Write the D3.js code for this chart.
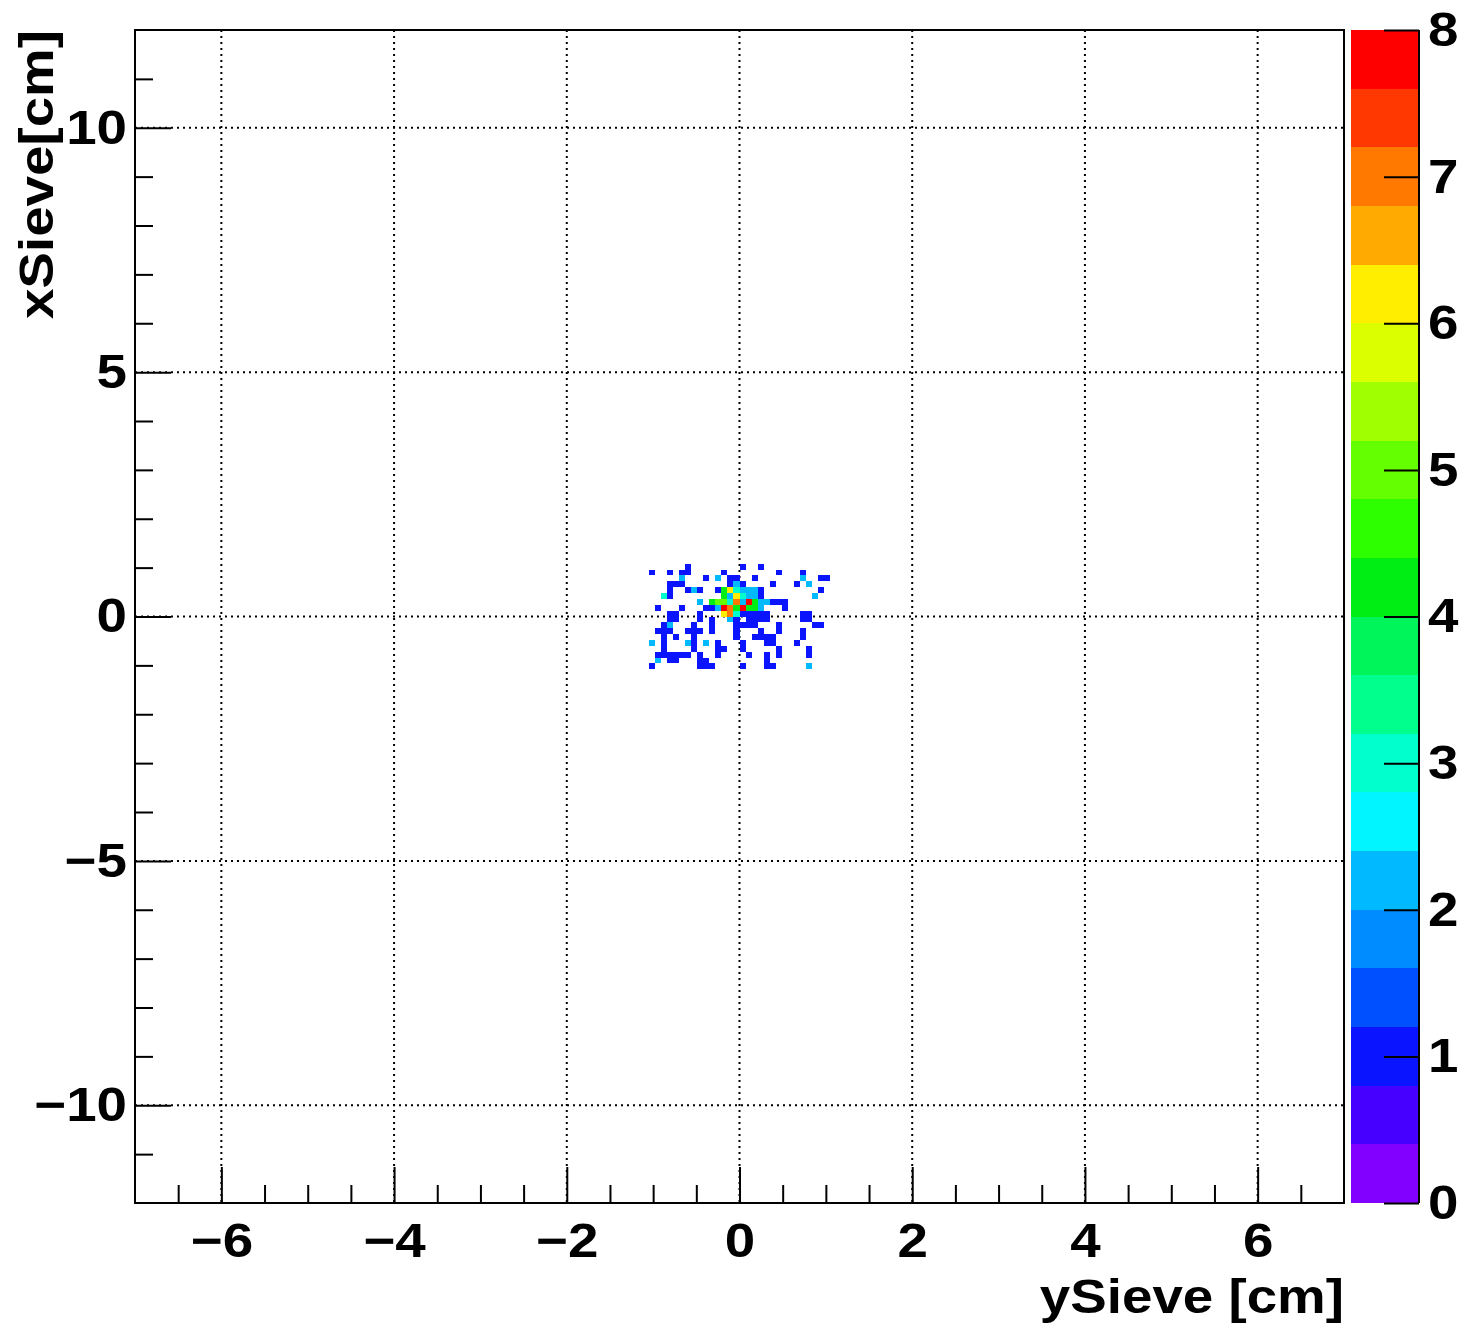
<!DOCTYPE html>
<html><head><meta charset="utf-8">
<script src="https://cdn.jsdelivr.net/npm/d3@7"></script>
<style>body{margin:0;background:#fff}svg{display:block}</style>
</head><body>
<svg id="chart" width="1464" height="1323"></svg>
<script>
// Histogram definition (ySieve horizontal, xSieve vertical)
const ySieveRange = [-7, 7];
const xSieveRange = [-12, 12];
const nBinsY = 200;
const nBinsX = 200;
// first bin index of the non-empty block, and top row bin index
const firstColBin = 85;
const topRowBin = 108;
// counts per row (top row first), '.' = empty
const countRows = [
  "......1........1..1...........",
  "1..1.11.....1........1...1....",
  ".....2...1.2.11..1.......2..11",
  "...111.......121....1...1.2...",
  "...1..121..14632221.........1.",
  "..31........4263221........2..",
  "........2.4553728422111.......",
  ".1...1...1128748442...1.......",
  "...11...1...67311111.....11...",
  "...11...1.1..21.1111.....11...",
  "..12...1..1...1111...1.....11.",
  ".111..111.1...1...1..1...1....",
  "..1.1..1......1..1111....1....",
  "2.1...21.2.1...1...11...1.....",
  "..1....1...11..1.....1....1...",
  ".111111.1..1....1..1.1....1...",
  ".2.11...11.........1..........",
  "1.......111....1...11.....2..."
];
const xTicks = [-6, -4, -2, 0, 2, 4, 6];
const yTicks = [-10, -5, 0, 5, 10];
const zTicks = [0, 1, 2, 3, 4, 5, 6, 7, 8];
const zMax = 8;
const paletteColors = ["#8200ff","#4600ff","#0a14ff","#0050ff","#008cff","#00b9ff","#00f5ff","#00ffcc","#00ff8c","#00f55a",
  "#00ee14","#2dff00","#64ff00","#a0ff00","#dcff00","#ffee00","#ffaa00","#ff7800","#ff3700","#ff0000"];

const svg = d3.select("#chart");
const L = 135, R = 1344, T = 30, B = 1203;
const x = d3.scaleLinear().domain(ySieveRange).range([L, R]);
const y = d3.scaleLinear().domain(xSieveRange).range([B, T]);
const z = d3.scaleLinear().domain([0, zMax]).range([B, T]);
const font = "'Liberation Sans', Arial, Helvetica, sans-serif";
const stretch = 1.14;

const bw = (ySieveRange[1] - ySieveRange[0]) / nBinsY;
const bh = (xSieveRange[1] - xSieveRange[0]) / nBinsX;
const cells = [];
countRows.forEach((row, r) => {
  const j = topRowBin - r;
  row.split("").forEach((ch, c) => {
    if (ch === ".") return;
    const i = firstColBin + c;
    cells.push({x0: ySieveRange[0] + i * bw, y0: xSieveRange[0] + j * bh, v: +ch});
  });
});
const colorOf = v => paletteColors[Math.min(paletteColors.length - 1, Math.floor(v / zMax * paletteColors.length))];

function widen(sel) {
  sel.each(function() {
    const n = this.getComputedTextLength();
    if (n > 0) d3.select(this).attr("textLength", n * stretch).attr("lengthAdjust", "spacingAndGlyphs");
  });
}

// grid
const grid = svg.append("g").attr("stroke", "#000").attr("stroke-width", 2).attr("stroke-dasharray", "2,4");
grid.selectAll("line.v").data(xTicks).join("line")
  .attr("x1", d => x(d)).attr("x2", d => x(d)).attr("y1", T).attr("y2", B);
grid.selectAll("line.h").data(yTicks).join("line")
  .attr("y1", d => y(d)).attr("y2", d => y(d)).attr("x1", L).attr("x2", R);

// cells
svg.append("g").selectAll("rect").data(cells).join("rect")
  .attr("x", d => x(d.x0)).attr("width", d => x(d.x0 + bw) - x(d.x0))
  .attr("y", d => y(d.y0 + bh)).attr("height", d => y(d.y0) - y(d.y0 + bh))
  .attr("fill", d => colorOf(d.v)).attr("shape-rendering", "crispEdges");

// axes
function styleAxis(g) {
  g.select(".domain").remove();
  g.selectAll("line").attr("stroke", "#000").attr("stroke-width", 2);
  g.selectAll("text").attr("font-family", font).attr("font-weight", "bold").attr("font-size", 48).attr("fill", "#000").call(widen);
}
const minus = d => (d < 0 ? "\u2212" + Math.abs(d) : "" + d);
const xMinor = d3.range(-6.5, 7, 0.5).filter(v => !xTicks.includes(v));
svg.append("g").attr("transform", `translate(0,${B})`)
  .call(d3.axisBottom(x).tickValues(xMinor).tickSize(-18).tickFormat("")).call(styleAxis);
svg.append("g").attr("transform", `translate(0,${B})`)
  .call(d3.axisBottom(x).tickValues(xTicks).tickSize(-36).tickPadding(20).tickFormat(minus)).call(styleAxis);
const yMinor = d3.range(-11, 12, 1).filter(v => !yTicks.includes(v));
svg.append("g").attr("transform", `translate(${L},0)`)
  .call(d3.axisLeft(y).tickValues(yMinor).tickSize(-18).tickFormat("")).call(styleAxis);
svg.append("g").attr("transform", `translate(${L},0)`)
  .call(d3.axisLeft(y).tickValues(yTicks).tickSize(-36).tickPadding(8).tickFormat(minus)).call(styleAxis);

// frame
svg.append("rect").attr("x", L).attr("y", T).attr("width", R - L).attr("height", B - T)
  .attr("fill", "none").attr("stroke", "#000").attr("stroke-width", 2);

// colour bar
const CBL = 1351, CBR = 1419;
const bandEdges = d3.range(paletteColors.length).map(k => ({k, lo: k * zMax / paletteColors.length, hi: (k + 1) * zMax / paletteColors.length}));
svg.append("g").selectAll("rect").data(bandEdges).join("rect")
  .attr("x", CBL).attr("width", CBR - CBL)
  .attr("y", d => z(d.hi)).attr("height", d => z(d.lo) - z(d.hi))
  .attr("fill", d => paletteColors[d.k]).attr("shape-rendering", "crispEdges");
svg.append("g").attr("transform", `translate(${CBR},0)`)
  .call(d3.axisRight(z).tickValues(zTicks).tickSize(-35).tickPadding(9).tickFormat(d3.format("d"))).call(styleAxis);
svg.append("line").attr("x1", CBR).attr("x2", CBR).attr("y1", T).attr("y2", B).attr("stroke", "#000").attr("stroke-width", 2);

// titles
svg.append("text").attr("x", R).attr("y", 1313).attr("text-anchor", "end")
  .attr("font-family", font).attr("font-weight", "bold").attr("font-size", 48).text("ySieve [cm]").call(widen);
svg.append("text").attr("transform", `translate(53,${T}) rotate(-90)`).attr("text-anchor", "end")
  .attr("font-family", font).attr("font-weight", "bold").attr("font-size", 48).text("xSieve[cm]").call(widen);
</script>
</body></html>
